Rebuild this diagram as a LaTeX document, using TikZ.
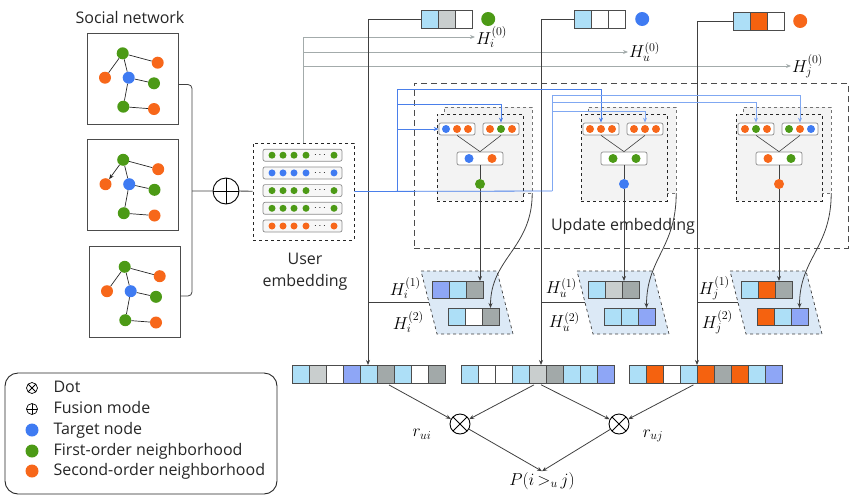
\documentclass[tikz,border=0pt]{standalone}
\usepackage{fontspec}
\setsansfont{Open Sans}
\usepackage{tikz}
\usetikzlibrary{arrows.meta,calc,positioning}

\definecolor{ngreen}{HTML}{4C9A16}
\definecolor{norange}{HTML}{F7671A}
\definecolor{nblue}{HTML}{3F7BF2}
\definecolor{cLB}{HTML}{ADDFF7}
\definecolor{cLG}{HTML}{C9CECE}
\definecolor{cDG}{HTML}{A2A9A9}
\definecolor{cMB}{HTML}{8EA6F6}
\definecolor{cOR}{HTML}{F5620F}
\definecolor{bfill}{HTML}{F3F3F3}
\definecolor{pfill}{HTML}{DCE9F6}
\definecolor{hgray}{HTML}{A3ABAB}
\definecolor{hblue}{HTML}{4A7FEA}
\definecolor{hblue2}{HTML}{80A8F2}

\tikzset{
  ball/.style={circle, inner sep=0pt, minimum size=#1},
  cell/.style={draw=black!70, line width=0.6pt, minimum width=17pt, minimum height=18pt, inner sep=0pt, outer sep=0pt},
  mbox/.style={draw=black!45, rounded corners=2pt, line width=0.7pt, fill=white, minimum height=12pt, inner sep=0pt},
  urow/.style={mbox, minimum width=79pt, fill=black!3},
  backbox/.style={draw=black!55, dashed, fill=bfill, minimum width=88pt, minimum height=86pt},
  frontbox/.style={draw=black!85, dashed, line width=0.8pt, fill=bfill, minimum width=86pt, minimum height=87pt},
  para/.style={draw=black!75, dashed, fill=pfill, line width=0.7pt},
  panel/.style={draw=black!70, line width=0.8pt, minimum size=91pt, inner sep=0pt},
  gedge/.style={draw=black!85, line width=0.7pt},
  cline/.style={draw=black!75, line width=0.8pt},
  hgl/.style={draw=hgray, line width=0.9pt},
  bl/.style={draw=hblue, line width=0.8pt},
  bl2/.style={draw=hblue2, line width=0.8pt},
  arr/.style={-{Stealth[length=5pt,width=4pt]}},
  txt/.style={font=\sffamily\fontsize{16}{19}\selectfont, text=black!85},
  ltxt/.style={txt, anchor=west, text height=11pt, text depth=3pt},
  mlbl/.style={font=\LARGE, inner sep=1pt},
  otimes/.style={circle, draw, line width=0.9pt, minimum size=#1, inner sep=0pt,
    path picture={\draw[line width=0.9pt] (path picture bounding box.north west) -- (path picture bounding box.south east)
      (path picture bounding box.north east) -- (path picture bounding box.south west);}},
  oplus/.style={circle, draw, line width=0.9pt, minimum size=#1, inner sep=0pt,
    path picture={\draw[line width=0.9pt] (path picture bounding box.north) -- (path picture bounding box.south)
      (path picture bounding box.east) -- (path picture bounding box.west);}}
}

% a row of coloured cells: name-1, name-2, ...
\newcommand\vrow[5][]{\foreach \c [count=\k] in {#5}{\node[cell, fill=\c, #1] (#2-\k) at (#3+\k*17-8.5,#4) {};}}
\newcommand\balls[4]{\foreach \c [count=\k] in {#4}{\node[ball=8pt, fill=\c] (#1-\k) at (#2+\k*11-11,#3) {};}}

% one update block
\newcommand\updblock[6]{%
  \node[backbox] (bk#1) at (#2+51,150) {};
  \node[frontbox] (fr#1) at (#2+43,157.5) {};
  \node[mbox, minimum width=36pt] (l#1) at (#2+20,129) {};
  \node[mbox, minimum width=36pt] (r#1) at (#2+64,129) {};
  \node[mbox, minimum width=46pt, minimum height=13pt] (m#1) at (#2+43,158.5) {};
  \balls{l#1}{#2+9}{129}{#3}
  \balls{r#1}{#2+53}{129}{#4}
  \foreach \c [count=\k] in {#5}{\node[ball=9pt, fill=\c] (m#1-\k) at (#2+9+\k*23,158.5) {};}
  \node[ball=10pt, fill=#6] (d#1) at (#2+43,184) {};
  \draw[cline, line width=0.6pt] (l#1.south) -- (m#1.north) -- (r#1.south);
  \draw[cline] (m#1) -- (d#1);
}

% H^(1), H^(2) in their parallelogram
\newcommand\hpair[4]{%
  \path[para] (#2,271) -- ++(76,0) -- ++(16,63) -- ++(-76,0) -- cycle;
  \coordinate (pl#1) at (#2+8,302);
  \vrow[minimum height=17pt]{ha#1}{#2+11}{289.5}{#3}
  \vrow[minimum height=17pt]{hb#1}{#2+27}{316.5}{#4}
  \node[mlbl, anchor=east] (la#1) at (#2+1,288) {$H_#1^{(1)}$};
  \node[mlbl, anchor=east] (lb#1) at (#2+4,322) {$H_#1^{(2)}$};
}

\begin{document}
\begin{tikzpicture}[x=1pt, y=-1pt]
\useasboundingbox (0,0) rectangle (850,498);

% social network
\node[txt] (sntitle) at (130,17) {Social network};
\foreach \p/\dx/\dy in {1/0/0, 2/0.5/106.5, 3/2/213.5} {
  \node[panel] (sn\p) at (132.5+\dx,78.5+\dy) {};
  \node[ball=12pt, fill=ngreen] (ga\p) at (122.7+\dx,53.3+\dy) {};
  \node[ball=12pt, fill=norange] (gb\p) at (157.7+\dx,62.7+\dy) {};
  \node[ball=12pt, fill=norange] (gc\p) at (105+\dx,77.7+\dy) {};
  \node[ball=12pt, fill=nblue] (gd\p) at (128.7+\dx,77.7+\dy) {};
  \node[ball=12pt, fill=ngreen] (ge\p) at (154+\dx,83.3+\dy) {};
  \node[ball=12pt, fill=ngreen] (gf\p) at (123.3+\dx,106.7+\dy) {};
  \node[ball=12pt, fill=norange] (gg\p) at (154+\dx,109+\dy) {};
  \draw[gedge] (ga\p) -- (gb\p) (ga\p) -- (gd\p) -- (ge\p) (gd\p) -- (gf\p) -- (gg\p);
}
\draw[gedge] (ga1) -- (gc1) (ga3) -- (gc3);
\draw[gedge, arr] (ga2) -- (gc2);

% user embedding
\node[draw=black!85, dashed, line width=0.8pt, minimum width=101pt, minimum height=97pt] (ue) at (303.5,191.5) {};
\foreach \c [count=\k] in {ngreen,nblue,ngreen,ngreen,norange} {
  \node[urow] (ur\k) at (302.5,137.5+\k*17.7) {};
  \foreach \x [count=\m] in {272,283,294,306,334} {\node[ball=7pt, fill=\c] (ur\k-\m) at (\x,137.5+\k*17.7) {};}
  \node[inner sep=0pt] (ud\k) at (320,137.5+\k*17.7) {$\cdots$};
}
\node[txt, font=\sffamily\fontsize{16}{22}\selectfont, align=center] (uelbl) at (305,272) {User\\embedding};

% fusion
\coordinate (br) at (192,191);
\node[oplus=26pt] (fus) at (226,191) {};
\draw[cline, rounded corners=4pt] ([yshift=-6pt]sn1.east) -| (br) |- ([yshift=-4pt]sn3.east);
\draw[cline] (br) -- (fus) -- (ue);

% H^(0)
\node[mlbl, anchor=west] (hi0) at (475,37) {$H_i^{(0)}$};
\node[mlbl, anchor=west] (hu0) at (628,52) {$H_u^{(0)}$};
\node[mlbl, anchor=west] (hj0) at (791,66) {$H_j^{(0)}$};
\draw[hgl, arr] (ue.north) |- (hi0.west);
\draw[hgl, arr] (ue.north |- hu0.west) -- (hu0.west);
\draw[hgl, arr] (ue.north |- hj0.west) -- (hj0.west);

% top and bottom vectors
\vrow{ti}{421}{19}{cLB,cLG,white}
\vrow{tu}{574}{19}{cLB,white,white}
\vrow{tj}{733}{21}{cLB,cOR,white}
\node[ball=14pt, fill=ngreen, right=9pt of ti-3] (tdi) {};
\node[ball=14pt, fill=nblue, right=10pt of tu-3] (tdu) {};
\node[ball=14pt, fill=norange, right=9pt of tj-3] (tdj) {};
\vrow{bi}{292}{374}{cLB,cLG,white,cMB,cLB,cDG,cLB,white,cDG}
\vrow{bu}{461}{374}{cLB,white,white,cLB,cLG,cDG,cLB,cLB,cMB}
\vrow{bj}{629}{374}{cLB,cOR,white,cLB,cOR,cDG,cOR,cLB,cMB}

% update embedding
\node[draw=black!70, dash pattern=on 6pt off 4pt, line width=0.9pt, minimum width=434pt, minimum height=165pt] (upd) at (631,165.5) {};
\node[txt] (updlbl) at (623,226) {Update embedding};
\updblock{i}{437}{nblue,norange,norange}{norange,ngreen,norange}{nblue,norange}{ngreen}
\updblock{u}{581}{norange,norange,norange}{norange,norange,norange}{ngreen,ngreen}{nblue}
\updblock{j}{736}{norange,ngreen,norange}{ngreen,norange,nblue}{norange,ngreen}{norange}

\hpair{i}{421}{cMB,cLB,cDG}{cLB,white,cDG}
\hpair{u}{577}{cLB,cLG,cDG}{cLB,cLB,cMB}
\hpair{j}{730}{cLB,cOR,cDG}{cOR,cLB,cMB}

% black connectors
\coordinate (ci) at (368,0);
\coordinate (cu) at (541,0);
\coordinate (cj) at (697,0);
\foreach \n in {i,u,j} {
  \draw[cline, arr] (t\n-1.west) -| (c\n |- b\n-1.north);
  \draw[cline] (c\n |- pl\n) -- (pl\n);
  \draw[cline, arr] (d\n) -- (d\n |- ha\n-1.north);
  \draw[cline, arr] (bk\n.south east) .. controls +(0,55) and +(0,-50) .. (hb\n-3.north);
}

% blue connectors
\coordinate (ba) at (397,191);
\coordinate (bb) at (552,191);
\draw[bl] (ue.east) -- (bb);
\draw[bl, arr] (ba) -- ++(0,-102) -| (lu.north);
\draw[bl, arr] (ba) -- ++(0,-87) -| (ri.north);
\draw[bl, arr] (ba) |- (li.west);
\draw[bl2, arr] (bb) -- ++(0,-96) -| (rj.north);
\draw[bl2, arr] (bb) -- ++(0,-89) -| (lj.north);
\draw[bl2, arr] (bb) -- ++(0,-80) -| (ru.north);

% scores
\node[otimes=20pt] (oi) at (460,424) {};
\node[otimes=20pt] (oj) at (619,424) {};
\node[mlbl] (rui) at (422,434) {$r_{ui}$};
\node[mlbl] (ruj) at (653,436) {$r_{uj}$};
\node[mlbl] (pij) at (542,481) {$P(i\,{>_u}\,j)$};
\draw[cline, arr, shorten <=4pt] (bi-6.south) -- (oi);
\draw[cline, arr, shorten <=4pt] (bu-5.south) -- (oi);
\draw[cline, arr, shorten <=4pt] (bu-5.south) -- (oj);
\draw[cline, arr, shorten <=4pt] (bj-5.south west) -- (oj);
\draw[cline, arr] (oi) -- (pij.north);
\draw[cline, arr] (oj) -- (pij.north);

% legend
\node[draw=black!85, line width=0.9pt, rounded corners=13pt, minimum width=272pt, minimum height=121pt] (leg) at (141,433.5) {};
\node[otimes=11pt, line width=0.7pt] (kdot) at (32,388) {};
\node[oplus=11pt, line width=0.7pt] (kfus) at (32,409) {};
\node[ball=13pt, fill=nblue] (ktar) at (32,430) {};
\node[ball=13pt, fill=ngreen] (kfst) at (32,451) {};
\node[ball=13pt, fill=norange] (ksnd) at (32,471) {};
\node[ltxt] (ldot) at (50,388) {Dot};
\node[ltxt] (lfus) at (50,409) {Fusion mode};
\node[ltxt] (ltar) at (50,430) {Target node};
\node[ltxt] (lfst) at (50,451) {First-order neighborhood};
\node[ltxt] (lsnd) at (50,471) {Second-order neighborhood};
\end{tikzpicture}
\end{document}
